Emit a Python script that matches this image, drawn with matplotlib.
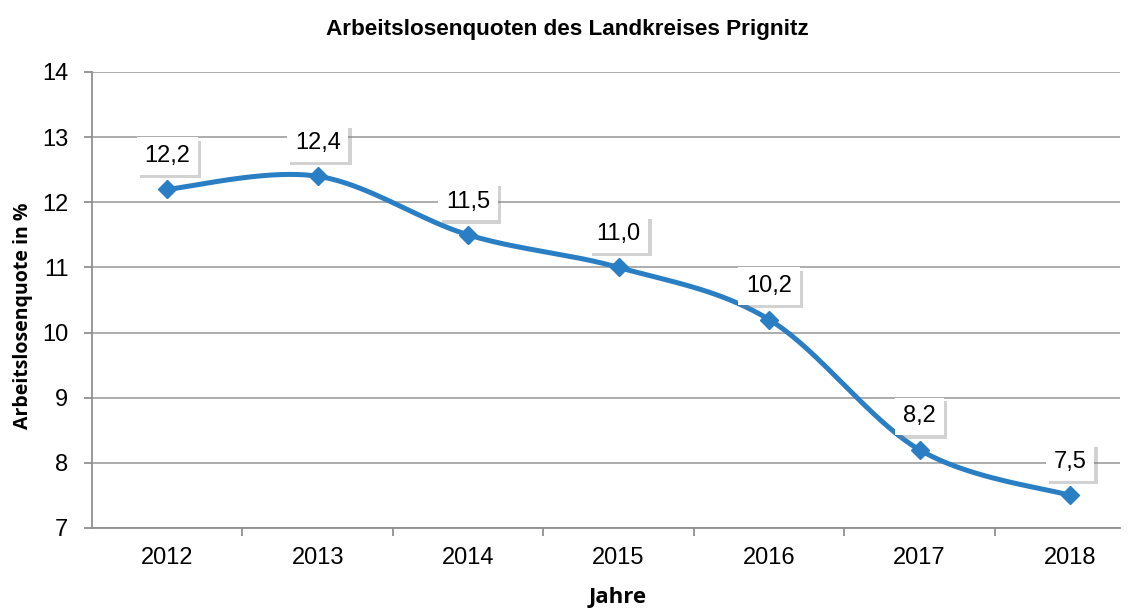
import numpy as np
import matplotlib
matplotlib.use('Agg')
import matplotlib.pyplot as plt
import matplotlib.patheffects as pe

years = ['2012', '2013', '2014', '2015', '2016', '2017', '2018']
quote = [12.2, 12.4, 11.5, 11.0, 10.2, 8.2, 7.5]
labels = ['12,2', '12,4', '11,5', '11,0', '10,2', '8,2', '7,5']

narrow = ['Liberation Sans Narrow', 'Liberation Sans', 'DejaVu Sans']
wide = ['Open Sans', 'DejaVu Sans']

fig = plt.figure(figsize=(11.34, 6.08), dpi=100)
ax = fig.add_axes([92/1134, 80/608, (1120-92)/1134, (528-72)/608])

# smooth line like the spreadsheet (Bezier segments, Catmull-Rom controls)
x = np.arange(len(years), dtype=float)
y = np.array(quote)
px = np.concatenate([[x[0]], x, [x[-1]]])
py = np.concatenate([[y[0]], y, [y[-1]]])
cx, cy = [], []
t = np.linspace(0, 1, 40)
for i in range(1, len(px) - 2):
    p0 = np.array([px[i], py[i]])
    p3 = np.array([px[i+1], py[i+1]])
    p1 = p0 + (np.array([px[i+1], py[i+1]]) - np.array([px[i-1], py[i-1]])) / 6
    p2 = p3 - (np.array([px[i+2], py[i+2]]) - np.array([px[i], py[i]])) / 6
    b = ((1-t)**3)[:, None]*p0 + (3*(1-t)**2*t)[:, None]*p1 + (3*(1-t)*t**2)[:, None]*p2 + (t**3)[:, None]*p3
    cx.extend(b[:, 0]); cy.extend(b[:, 1])

ax.plot(cx, cy, color='#2a7ec3', lw=3.6, solid_capstyle='round', zorder=3)
ax.plot(x, y, 'D', color='#2a7ec3', ms=9.5, zorder=4)

for xi, yi, lab in zip(x, y, labels):
    txt = ax.annotate(lab, (xi, yi), xytext=(0, 24), textcoords='offset points',
                      ha='center', va='center', fontsize=17, family=narrow, color='black',
                      bbox=dict(boxstyle='square,pad=0.33', fc='white', ec='none'), zorder=6)
    txt.get_bbox_patch().set_path_effects([
        pe.SimplePatchShadow(offset=(2.5, -2.5), shadow_rgbFace='#808080', alpha=0.35),
        pe.Normal()])

ax.set_ylim(7, 14)
ax.set_xlim(-0.5, (1120-167)/150.5)
ax.set_yticks(range(7, 15))
ax.set_xticks(x)
ax.set_xticklabels(years)
ax.set_xticks(np.arange(0.5, 6, 1), minor=True)
ax.grid(axis='y', color='#a6a6a6', lw=1.3)
ax.set_axisbelow(True)
for s in ['top', 'right']:
    ax.spines[s].set_visible(False)
for s in ['left', 'bottom']:
    ax.spines[s].set_color('#909090')
    ax.spines[s].set_linewidth(1.3)
ax.tick_params(axis='y', length=6, width=1.3, color='#909090', labelsize=17, pad=11)
ax.tick_params(axis='x', which='major', length=0, labelsize=17, pad=14)
ax.tick_params(axis='x', which='minor', length=6, width=1.3, color='#909090')
for lab in ax.get_xticklabels() + ax.get_yticklabels():
    lab.set_family(narrow)

ax.set_ylabel('Arbeitslosenquote in %', fontsize=14, fontweight='bold', family=wide)
ax.yaxis.set_label_coords((23-92)/1028, (528-316)/456)
ax.set_xlabel('Jahre', fontsize=16, fontweight='bold', family=wide)
ax.xaxis.set_label_coords((618-92)/1028, (528-598)/456)
ax.xaxis.label.set_va('center')
ax.yaxis.label.set_va('center')
fig.text(0.5, 1 - 30/608, 'Arbeitslosenquoten des Landkreises Prignitz', ha='center', va='center',
         fontsize=16.2, fontweight='bold', family=narrow)

fig.savefig('out.png', dpi=100)
